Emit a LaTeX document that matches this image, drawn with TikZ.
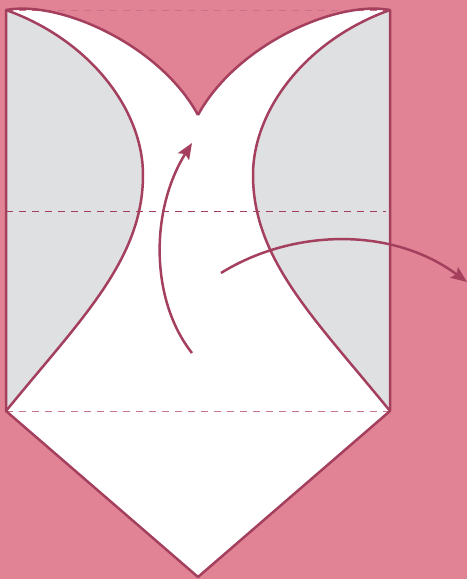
\documentclass[tikz,border=0pt]{standalone}
\usepackage{xcolor}
\usepackage{tikz}
\usetikzlibrary{arrows.meta}
\definecolor{bgpink}{HTML}{E18394}
\definecolor{edge}{HTML}{A4405E}
\definecolor{backgrey}{HTML}{DFE0E2}
\definecolor{foldpink}{HTML}{C8738B}

\begin{document}
\begin{tikzpicture}[x=1pt, y=-1pt,
    outline/.style={edge, line width=2.5pt, line join=round},
    fold/.style={foldpink, line width=1pt, dash pattern=on 7pt off 6pt},
    turn/.style={edge, line width=2.5pt, -{Stealth[length=16pt, width=13pt, inset=3pt]}}]
    % 背景
    \fill[bgpink] (0,0) rectangle (467,579);
    \useasboundingbox (0,0) rectangle (467,579);

    % 角点
    \coordinate (tl) at (6,10);
    \coordinate (tr) at (390,10);
    \coordinate (bl) at (6,411);
    \coordinate (br) at (390,411);
    \coordinate (tip) at (198,577);
    \coordinate (cusp) at (198,115);

    % 纸面
    \fill[white] (tl) -- (bl) -- (tip) -- (br) -- (tr)
        .. controls (336,0) and (236,45) .. (cusp)
        .. controls (160,45) and (60,0) .. (tl) -- cycle;

    % 背面 (灰)
    \fill[backgrey] (tl) .. controls (90,40) and (143,110) .. (143,175)
        .. controls (143,260) and (80,320) .. (bl) -- cycle;
    \fill[backgrey] (tr) .. controls (306,40) and (253,110) .. (253,175)
        .. controls (253,260) and (316,320) .. (br) -- cycle;

    % 折线
    \draw[fold] (tl) -- (tr);
    \draw[fold] (bl) -- (br);
    \draw[fold, edge] (6,211) -- (386,211);

    % 轮廓
    \draw[outline] (tl) .. controls (90,40) and (143,110) .. (143,175)
        .. controls (143,260) and (80,320) .. (bl);
    \draw[outline] (tr) .. controls (306,40) and (253,110) .. (253,175)
        .. controls (253,260) and (316,320) .. (br);
    \draw[outline] (cusp) .. controls (160,45) and (60,0) .. (tl)
        -- (bl) -- (tip) -- (br) -- (tr)
        .. controls (336,0) and (236,45) .. (cusp);

    % 箭头
    \coordinate (upstart) at (192,353);
    \coordinate (upend) at (192,143);
    \coordinate (outstart) at (221,273);
    \coordinate (outend) at (467,282);
    \draw[turn] (upstart) .. controls (150,300) and (150,210) .. (upend);
    \draw[turn] (outstart) .. controls (290,230) and (390,225) .. (outend);
\end{tikzpicture}
\end{document}
